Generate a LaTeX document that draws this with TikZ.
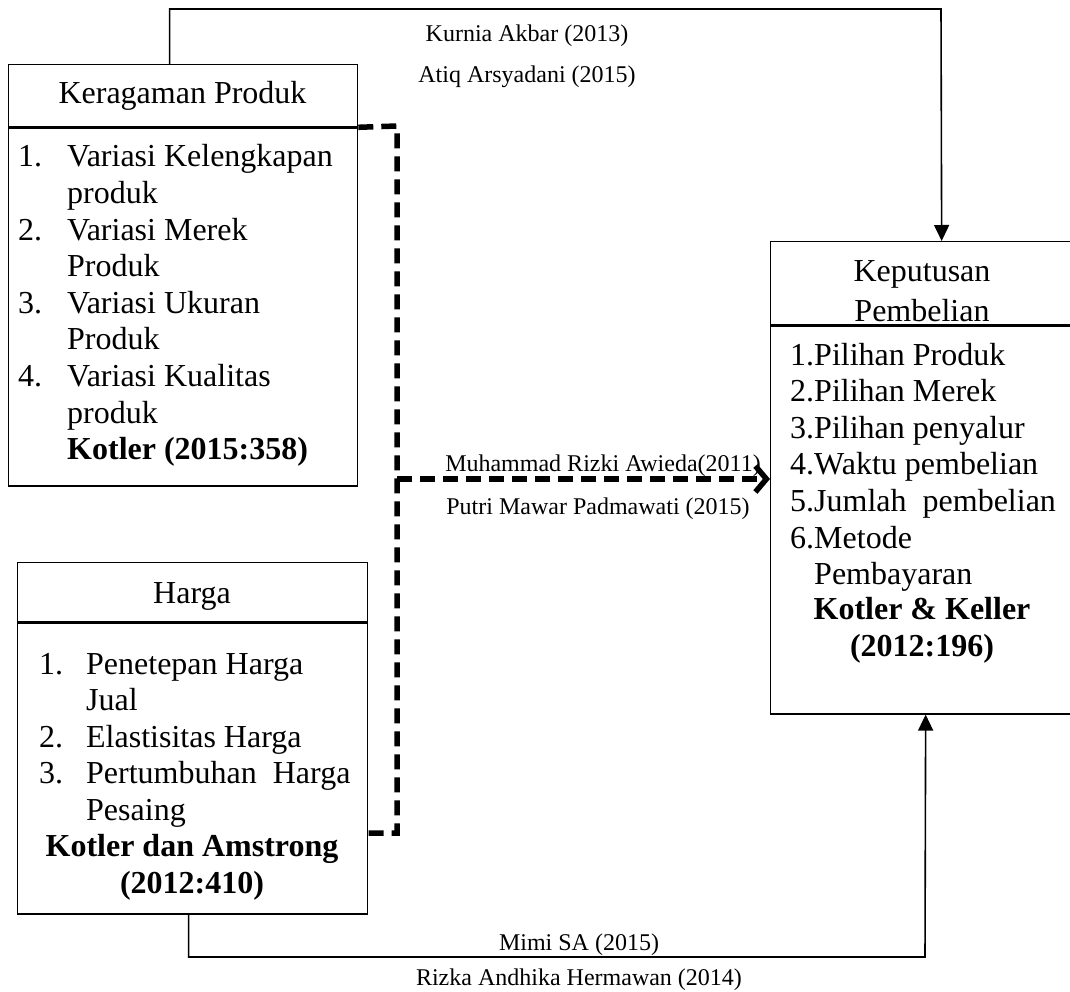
\documentclass[tikz,border=0pt]{standalone}
\usepackage{fontspec}
\setmainfont{Liberation Serif}
\usetikzlibrary{arrows.meta,positioning,calc}
\newcommand\itemfont{\fontsize{32pt}{36.6pt}\selectfont}
\newcommand\reffont{\fontsize{24pt}{28pt}\selectfont}
\tikzset{
  boxframe/.style  = {shape=rectangle, draw, line width=1.3pt, inner sep=0pt},
  boxtitle/.style  = {anchor=base, font=\itemfont, inner sep=0pt, align=center},
  itemlist/.style  = {anchor=base west, font=\itemfont, inner sep=0pt},
  citation/.style  = {anchor=base, font=\itemfont\bfseries, inner sep=0pt, align=center},
  reflabel/.style  = {anchor=base, font=\reffont, inner sep=0pt},
  solidlink/.style = {line width=1.6pt, -{Triangle[width=15pt,length=16pt]}},
  dashlink/.style  = {line width=5.5pt, dash pattern=on 15pt off 8pt},
}

\begin{document}
\begin{tikzpicture}[x=1pt,y=-1pt]
  \useasboundingbox (0,0) rectangle (1070,992);

  % Keragaman Produk
  \node[boxframe, minimum width=349pt, minimum height=62pt, anchor=north west]
    (kp-head) at (8,64) {};
  \node[boxframe, minimum width=349pt, minimum height=358pt, anchor=north]
    (kp-body) at (kp-head.south) {};
  \node[boxtitle] (kp-title) at (182.5,104) {Keragaman Produk};
  \node[itemlist] (kp-items) at (18,167)
    {\begin{tabular}[t]{@{}p{49pt}@{}l@{}}
      1. & Variasi Kelengkapan\\
         & produk\\
      2. & Variasi Merek\\
         & Produk\\
      3. & Variasi Ukuran\\
         & Produk\\
      4. & Variasi Kualitas\\
         & produk\\
         & \textbf{Kotler (2015:358)}
     \end{tabular}};

  % Harga
  \node[boxframe, minimum width=350pt, minimum height=59pt, anchor=north west]
    (hg-head) at (17,562) {};
  \node[boxframe, minimum width=350pt, minimum height=291pt, anchor=north]
    (hg-body) at (hg-head.south) {};
  \node[boxtitle] (hg-title) at (192,603) {Harga};
  \node[itemlist] (hg-items) at (39,674)
    {\begin{tabular}[t]{@{}p{47pt}@{}l@{}}
      1. & Penetepan Harga\\
         & Jual\\
      2. & Elastisitas Harga\\
      3. & Pertumbuhan\ \ Harga\\
         & Pesaing
     \end{tabular}};
  \node[citation] (hg-source) at (192,893) {Kotler dan Amstrong\\(2012:410)};

  % Keputusan Pembelian
  \node[boxframe, minimum width=304pt, minimum height=83pt, anchor=north west]
    (kb-head) at (770,241) {};
  \node[boxframe, minimum width=304pt, minimum height=388pt, anchor=north]
    (kb-body) at (kb-head.south) {};
  \node[boxtitle] (kb-title) at (922,321) {Keputusan\\[2.5pt]Pembelian};
  \node[itemlist] (kb-items) at (790,365)
    {\begin{tabular}[t]{@{}l@{}l@{}}
      1. & Pilihan Produk\\
      2. & Pilihan Merek\\
      3. & Pilihan penyalur\\
      4. & Waktu pembelian\\
      5. & Jumlah\ \ pembelian\\
      6. & Metode\\
         & Pembayaran
     \end{tabular}};
  \node[citation] (kb-source) at (922,656) {Kotler \& Keller\\(2012:196)};

  % turning points
  \coordinate (top-turn) at (941,9);
  \coordinate (bot-turn) at (925,957);
  \coordinate (dash-top) at (397,126);
  \coordinate (dash-mid) at (397,479);
  \coordinate (dash-bot) at (397,833);

  % connectors
  \draw[solidlink] ([xshift=-13.5pt]kp-head.north) |- (top-turn)
    -- ([xshift=19pt]kb-head.north);
  \draw[solidlink] ([xshift=-4pt]hg-body.south) |- (bot-turn)
    -- ([xshift=3pt]kb-body.south);
  \draw[dashlink] (kp-body.north east) -- (dash-top) -- (dash-bot)
    -- (hg-body.east |- dash-bot);
  \draw[dashlink, -{Straight Barb[length=11pt,width=26pt]}] (dash-mid)
    -- (kb-body.west |- dash-mid);

  % references
  \node[reflabel] (ref-kurnia) at (527,42) {Kurnia Akbar (2013)};
  \node[reflabel] (ref-atiq)   at (527,83) {Atiq Arsyadani (2015)};
  \node[reflabel] (ref-rizki)  at (603,471) {Muhammad Rizki Awieda(2011)};
  \node[reflabel] (ref-putri)  at (598,514) {Putri Mawar Padmawati (2015)};
  \node[reflabel] (ref-mimi)   at (579,950) {Mimi SA (2015)};
  \node[reflabel] (ref-rizka)  at (579,985) {Rizka Andhika Hermawan (2014)};
\end{tikzpicture}
\end{document}
